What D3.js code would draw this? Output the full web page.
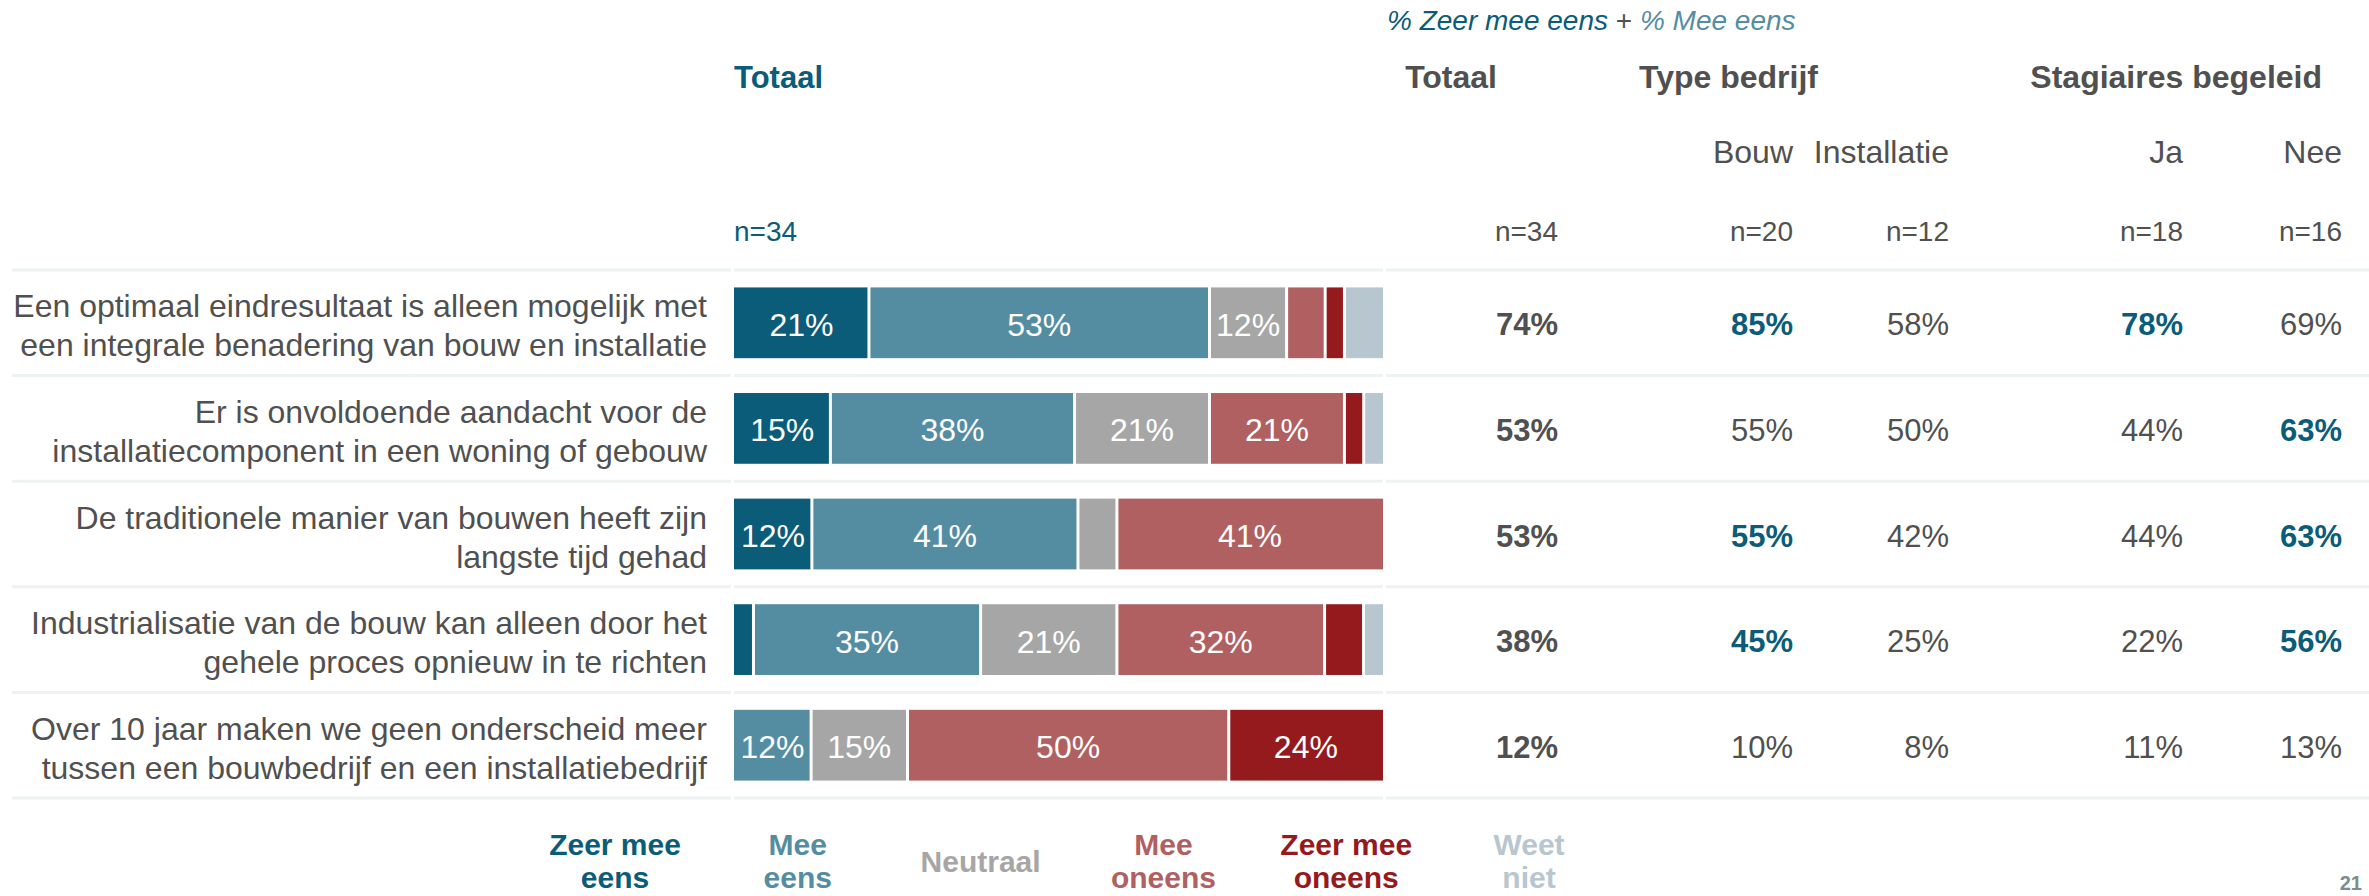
<!DOCTYPE html>
<html>
<head>
<meta charset="utf-8">
<script src="https://cdn.jsdelivr.net/npm/d3@7"></script>
<style>
  html, body { margin: 0; padding: 0; background: #fff; }
  svg { display: block; font-family: "Liberation Sans", Arial, sans-serif; }
</style>
</head>
<body>
<svg id="view"></svg>
<script>
// data
var categories = ["Zeer mee eens", "Mee eens", "Neutraal", "Mee oneens", "Zeer mee oneens", "Weet niet"];
var legendLines = [["Zeer mee", "eens"], ["Mee", "eens"], ["Neutraal"], ["Mee", "oneens"], ["Zeer mee", "oneens"], ["Weet", "niet"]];
var colors = ["#0b5c78", "#548da2", "#a6a6a6", "#b06060", "#951a1d", "#b8c6d0"];

var statements = [
	["Een optimaal eindresultaat is alleen mogelijk met", "een integrale benadering van bouw en installatie"],
	["Er is onvoldoende aandacht voor de", "installatiecomponent in een woning of gebouw"],
	["De traditionele manier van bouwen heeft zijn", "langste tijd gehad"],
	["Industrialisatie van de bouw kan alleen door het", "gehele proces opnieuw in te richten"],
	["Over 10 jaar maken we geen onderscheid meer", "tussen een bouwbedrijf en een installatiebedrijf"]
];

// percentages per statement, in the order of categories
var zeerMeeEens   = [21, 15, 12, 3, 0];
var meeEens       = [53, 38, 41, 35, 12];
var neutraal      = [12, 21, 6, 21, 15];
var meeOneens     = [6, 21, 41, 32, 50];
var zeerMeeOneens = [3, 3, 0, 6, 24];
var weetNiet      = [6, 3, 0, 3, 0];

// % (zeer) mee eens per group
var columns   = ["Totaal", "Bouw", "Installatie", "Ja", "Nee"];
var colN      = ["n=34", "n=20", "n=12", "n=18", "n=16"];
var totaal      = [74, 53, 53, 38, 12];
var bouw        = [85, 55, 55, 45, 10];
var installatie = [58, 50, 42, 25, 8];
var ja          = [78, 44, 44, 22, 11];
var nee         = [69, 63, 63, 56, 13];
// significantly higher (blue bold)
var highlight = [
	[false, true, false, true, false],
	[false, false, false, false, true],
	[false, true, false, false, true],
	[false, true, false, false, true],
	[false, false, false, false, false]
];

var W = 2369, H = 896;
var svg = d3.select("#view").attr("width", W).attr("height", H).attr("viewBox", [0, 0, W, H]);

var textGrey = "#505050";
var lineCol = "#eef2f3";
var barX0 = 734, barX1 = 1383;

var y = d3.scaleBand()
	.domain(d3.range(statements.length))
	.range([270, 798])
	.paddingInner(0.33)
	.paddingOuter(0.165);
var step = y.step();

var colX = d3.scaleOrdinal().domain(columns).range([1558, 1793, 1949, 2183, 2342]);
var legendX = d3.scalePoint().domain(categories).range([615, 1529]);

var series = [zeerMeeEens, meeEens, neutraal, meeOneens, zeerMeeOneens, weetNiet];
var groups = [totaal, bouw, installatie, ja, nee];

// separator lines
var seps = svg.append("g");
d3.range(statements.length + 1).forEach(i => {
	var yy = 270 + i * step;
	[[12, barX0 - 3], [barX0, barX1], [barX1 + 3, W]].forEach(s => {
		seps.append("line")
			.attr("x1", s[0]).attr("x2", s[1])
			.attr("y1", yy).attr("y2", yy)
			.attr("stroke", lineCol).attr("stroke-width", 3);
	});
});

// header
var sub = svg.append("text").attr("x", 1387).attr("y", 30).attr("font-size", 28).attr("font-style", "italic");
sub.append("tspan").attr("fill", colors[0]).text("% Zeer mee eens");
sub.append("tspan").attr("fill", textGrey).attr("font-style", "normal").text(" + ");
sub.append("tspan").attr("fill", colors[1]).text("% Mee eens");

svg.append("text").attr("x", barX0).attr("y", 88).attr("font-size", 31).attr("font-weight", "bold")
	.attr("fill", colors[0]).text("Totaal");
svg.append("text").attr("x", barX0).attr("y", 241).attr("font-size", 28)
	.attr("fill", colors[0]).text("n=34");

var heads = [["Totaal", 1497, "end"], ["Type bedrijf", 1639, "start"], ["Stagiaires begeleid", 2322, "end"]];
heads.forEach(h => {
	svg.append("text").attr("x", h[1]).attr("y", 88).attr("font-size", 32).attr("font-weight", "bold")
		.attr("text-anchor", h[2]).attr("fill", textGrey).text(h[0]);
});

columns.forEach((c, i) => {
	if (i > 0)
		svg.append("text").attr("x", colX(c)).attr("y", 163).attr("font-size", 32)
			.attr("text-anchor", "end").attr("fill", textGrey).text(c);
	svg.append("text").attr("x", colX(c)).attr("y", 241).attr("font-size", 28)
		.attr("text-anchor", "end").attr("fill", textGrey).text(colN[i]);
});

// rows
statements.forEach((st, r) => {
	var cy = y(r) + y.bandwidth() / 2;
	var g = svg.append("g");

	g.append("text").attr("x", 707).attr("font-size", 32).attr("fill", textGrey).attr("text-anchor", "end")
		.selectAll("tspan").data(st).join("tspan")
		.attr("x", 707)
		.attr("y", (d, i) => cy + 3 + (i - (st.length - 1) / 2) * 39)
		.attr("dominant-baseline", "central")
		.text(d => d);

	var vals = series.map(s => s[r]);
	var total = d3.sum(vals);
	var x = d3.scaleLinear().domain([0, total]).range([barX0, barX1]);
	var segs = [];
	var acc = 0;
	vals.forEach((v, i) => { segs.push({ v: v, x0: acc, x1: acc + v, c: colors[i] }); acc += v; });
	segs = segs.filter(d => d.v > 0);

	g.selectAll("rect").data(segs).join("rect")
		.attr("x", d => x(d.x0) + (d.x0 > 0 ? 1.5 : 0))
		.attr("width", d => x(d.x1) - x(d.x0) - (d.x0 > 0 ? 1.5 : 0) - (d.x1 < total ? 1.5 : 0))
		.attr("y", y(r))
		.attr("height", y.bandwidth())
		.attr("fill", d => d.c);

	g.selectAll("text.seg").data(segs.filter(d => d.v >= 10)).join("text")
		.attr("class", "seg")
		.attr("x", d => (x(d.x0) + x(d.x1)) / 2)
		.attr("y", cy + 2)
		.attr("dominant-baseline", "central")
		.attr("text-anchor", "middle")
		.attr("font-size", 32)
		.attr("fill", "#fff")
		.text(d => d.v + "%");

	groups.forEach((gr, i) => {
		var bold = i == 0 || highlight[r][i];
		g.append("text")
			.attr("x", colX(columns[i]))
			.attr("y", cy + 2)
			.attr("dominant-baseline", "central")
			.attr("text-anchor", "end")
			.attr("font-size", 31)
			.attr("font-weight", bold ? "bold" : "normal")
			.attr("fill", highlight[r][i] ? colors[0] : textGrey)
			.text(gr[r] + "%");
	});
});

// legend
categories.forEach((c, i) => {
	var lines = legendLines[i];
	svg.append("text").attr("text-anchor", "middle").attr("font-size", 30).attr("font-weight", "bold")
		.attr("fill", colors[i])
		.selectAll("tspan").data(lines).join("tspan")
		.attr("x", legendX(c))
		.attr("y", (d, j) => 861 + (j - (lines.length - 1) / 2) * 33)
		.attr("dominant-baseline", "central")
		.text(d => d);
});

svg.append("text").attr("x", 2362).attr("y", 890).attr("text-anchor", "end")
	.attr("font-size", 20).attr("font-weight", "bold").attr("fill", "#7f8c8d").text("21");
</script>
</body>
</html>
